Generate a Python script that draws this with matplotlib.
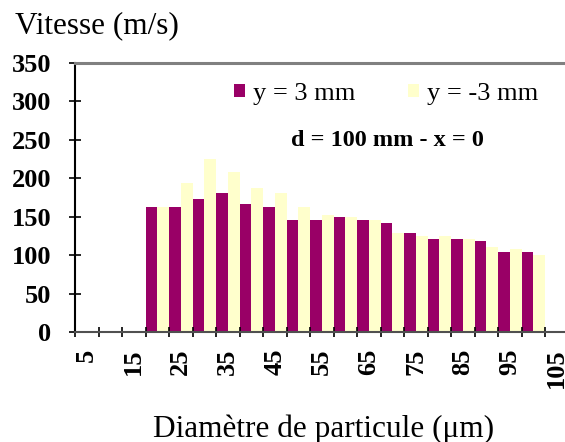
import numpy as np
import matplotlib
matplotlib.use("Agg")
import matplotlib.pyplot as plt
from matplotlib.patches import Patch

# -----------------------------------------------------------------------------
# Data: particle diameter classes (um) and velocities (m/s)
# -----------------------------------------------------------------------------
diam = [5, 10, 15, 20, 25, 30, 35, 40, 45, 50, 55, 60, 65, 70, 75, 80, 85,
        90, 95, 100, 105]
# y = 3 mm   (no values for 5-15 and 105)
v_pos = [None, None, None, 163, 163, 173, 181, 167, 163, 146, 146, 150, 146,
         142, 129, 121, 121, 119, 104, 104, None]
# y = -3 mm
v_neg = [None, None, None, 163, 194, 225, 208, 188, 181, 163, 152, 150, 146,
         129, 125, 125, 121, 111, 108, 100, None]

c_pos = '#990066'
c_neg = '#FFFFCC'
serif = 'Liberation Serif'

# -----------------------------------------------------------------------------
# Figure
# -----------------------------------------------------------------------------
W, H = 565, 442
fig = plt.figure(figsize=(W / 100, H / 100), dpi=100)
ax = fig.add_axes([75 / W, 1 - 332 / H, 493.5 / W, (332 - 63) / H])

x = np.arange(len(diam))
for i in range(len(diam)):
    if v_pos[i] is not None:
        ax.bar(x[i] - 0.25, v_pos[i], width=0.5, color=c_pos, linewidth=0)
    if v_neg[i] is not None:
        ax.bar(x[i] + 0.25, v_neg[i], width=0.5, color=c_neg, linewidth=0)

ax.set_xlim(-0.5, len(diam) - 0.5)
ax.set_ylim(0, 350)
ax.set_yticks(np.arange(0, 351, 50))

# tick marks on category boundaries, labels on every other category centre
ax.set_xticks(np.arange(-0.5, len(diam), 1.0))
ax.set_xticklabels([])
ax.set_xticks(x[::2], minor=True)
ax.set_xticklabels([str(d) for d in diam[::2]], minor=True, rotation=90,
                   fontfamily=serif, fontweight='bold', fontsize=19)
ax.tick_params(axis='x', which='major', direction='inout', length=7,
               width=1.2, color='black')
ax.tick_params(axis='x', which='minor', length=0, pad=12)
ax.tick_params(axis='y', direction='inout', length=8, width=1.2,
               color='black', pad=13)
for lab in ax.get_yticklabels():
    lab.set_fontfamily(serif)
    lab.set_fontweight('bold')
    lab.set_fontsize(19)

ax.spines['right'].set_visible(False)
ax.spines['left'].set_color('black')
ax.spines['left'].set_linewidth(1.5)
ax.spines['top'].set_color('#808080')
ax.spines['top'].set_linewidth(2.2)
ax.spines['bottom'].set_color('#505050')
ax.spines['bottom'].set_linewidth(1.5)

# legend
handles = [Patch(facecolor=c_pos, edgecolor='none', label='y = 3 mm'),
           Patch(facecolor=c_neg, edgecolor='none', label='y = -3 mm')]
fig.legend(handles=handles, loc='center', ncol=2, frameon=False,
           bbox_to_anchor=(386 / W, 1 - 94 / H),
           prop={'family': serif, 'size': 19},
           handlelength=0.42, handleheight=0.42, handletextpad=0.3,
           columnspacing=2.0)

fig.text(387 / W, 1 - 140 / H, 'd = 100 mm - x = 0', ha='center',
         va='center', fontfamily=serif, fontweight='bold', fontsize=17.5)

# axis titles
fig.text(15 / W, 1 - 33.5 / H, 'Vitesse (m/s)', ha='left', va='baseline',
         fontfamily=serif, fontsize=22.5)
fig.text(324 / W, 1 - 437 / H, 'Diamètre de particule (μm)', ha='center',
         va='baseline', fontfamily=serif, fontsize=22.5)

fig.savefig('out.png', dpi=100)
